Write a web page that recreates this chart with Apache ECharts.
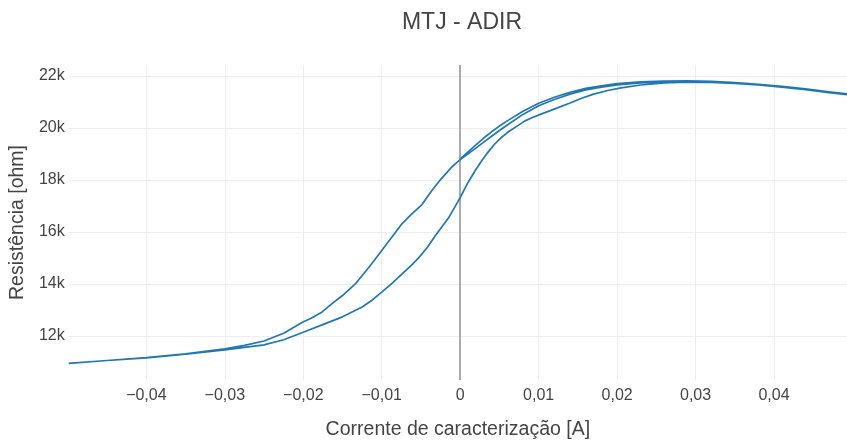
<!DOCTYPE html>
<html>
<head>
<meta charset="utf-8">
<script src="https://cdn.jsdelivr.net/npm/echarts@6/dist/echarts.min.js"></script>
<style>
html,body{margin:0;padding:0;background:#fff;}
#chart{width:847px;height:445px;}
</style>
</head>
<body>
<div id="chart"></div>
<script>
// Sweep A: current increasing from 0 to +0.05 A (upper branch)
const passA_x = [0, 0.001, 0.002, 0.003, 0.004, 0.005, 0.006, 0.008, 0.010, 0.012, 0.014, 0.016, 0.018, 0.020, 0.023, 0.026, 0.029, 0.032, 0.035, 0.038, 0.041, 0.044, 0.047, 0.0495];
const passA_y = [18810, 19080, 19350, 19610, 19850, 20070, 20270, 20640, 20950, 21180, 21370, 21520, 21620, 21700, 21770, 21800, 21810, 21790, 21740, 21680, 21600, 21500, 21390, 21300];

// Sweep B: current decreasing from +0.05 to -0.05 A (upper/left branch)
const passB_x = [0.0495, 0.047, 0.044, 0.041, 0.038, 0.035, 0.032, 0.029, 0.026, 0.023, 0.020, 0.018, 0.016, 0.014, 0.012, 0.010, 0.008, 0.006, 0.005, 0.004, 0.003, 0.002, 0.001, 0, -0.001, -0.0024, -0.0037, -0.0049, -0.0062, -0.0074, -0.0087, -0.0100, -0.0116, -0.0133, -0.0150, -0.0163, -0.0176, -0.0190, -0.0201, -0.0225, -0.025, -0.0275, -0.030, -0.035, -0.040, -0.045, -0.0499];
const passB_y = [21280, 21380, 21490, 21590, 21670, 21730, 21770, 21790, 21780, 21730, 21650, 21570, 21460, 21300, 21090, 20850, 20520, 20110, 19900, 19680, 19450, 19220, 19000, 18780, 18520, 18050, 17550, 17040, 16680, 16320, 15800, 15280, 14650, 14020, 13550, 13250, 12920, 12680, 12520, 12100, 11800, 11630, 11500, 11310, 11160, 11050, 10940];

// Sweep C: current increasing from -0.05 to +0.05 A (lower/right branch)
const passC_x = [-0.0499, -0.045, -0.040, -0.035, -0.030, -0.025, -0.0225, -0.0201, -0.0176, -0.0150, -0.0125, -0.0112, -0.0100, -0.0087, -0.0074, -0.0062, -0.0053, -0.0042, -0.0032, -0.0015, 0, 0.0010, 0.0019, 0.0027, 0.0035, 0.0044, 0.0052, 0.0061, 0.0072, 0.0082, 0.0092, 0.0103, 0.0124, 0.0140, 0.0154, 0.0170, 0.0188, 0.0205, 0.023, 0.026, 0.029, 0.032, 0.035, 0.038, 0.041, 0.044, 0.047, 0.0495];
const passC_y = [10940, 11050, 11150, 11290, 11460, 11650, 11850, 12130, 12420, 12730, 13110, 13380, 13680, 14020, 14380, 14720, 15000, 15400, 15840, 16530, 17320, 17900, 18350, 18720, 19050, 19380, 19620, 19840, 20060, 20260, 20400, 20530, 20770, 20960, 21130, 21300, 21440, 21540, 21650, 21730, 21760, 21750, 21710, 21650, 21570, 21470, 21360, 21270];

const titleText = 'MTJ - ADIR';
const xAxisTitle = 'Corrente de caracterização [A]';
const yAxisTitle = 'Resistência [ohm]';

const FONT = '"Liberation Sans", Arial, sans-serif';
const TXT = '#444';

function pairs(xs, ys) { return xs.map((x, i) => [x, ys[i]]); }
const data = [].concat(pairs(passA_x, passA_y), pairs(passB_x, passB_y), pairs(passC_x, passC_y));

const chart = echarts.init(document.getElementById('chart'), null, {renderer: 'canvas'});
chart.setOption({
  animation: false,
  backgroundColor: '#fff',
  title: {
    text: titleText,
    left: 457, top: 6, textAlign: 'center',
    textStyle: {fontFamily: FONT, fontSize: 23, fontWeight: 'normal', color: TXT}
  },
  grid: {left: 65, right: 0, top: 65, bottom: 62},
  xAxis: {
    type: 'value', min: -0.0499, max: 0.0493,
    splitNumber: 10, minInterval: 0.01, maxInterval: 0.01,
    name: xAxisTitle, nameLocation: 'middle', nameGap: 40,
    nameTextStyle: {fontFamily: FONT, fontSize: 19.5, color: TXT},
    axisLine: {show: false}, axisTick: {show: false},
    axisLabel: {
      margin: 8, fontFamily: FONT, fontSize: 16, color: TXT,
      showMinLabel: false, showMaxLabel: false,
      formatter: function (v) {
        if (Math.abs(v) < 1e-9) return '0';
        return (v < 0 ? '\u2212' : '') + Math.abs(v).toFixed(2).replace('.', ',');
      }
    },
    splitLine: {show: true, showMinLine: false, showMaxLine: false, lineStyle: {color: '#eeeeee', width: 1}}
  },
  yAxis: {
    type: 'value', min: 10300, max: 22420,
    minInterval: 2000, maxInterval: 2000,
    name: yAxisTitle, nameLocation: 'middle', nameGap: 38, nameRotate: 90,
    nameTextStyle: {fontFamily: FONT, fontSize: 19.5, color: TXT},
    axisLine: {show: false}, axisTick: {show: false},
    axisLabel: {
      margin: 4, fontFamily: FONT, fontSize: 16, color: TXT,
      padding: [7, 0, 0, 0],
      showMinLabel: false, showMaxLabel: false,
      formatter: function (v) { return (v / 1000) + 'k'; }
    },
    splitLine: {show: true, showMinLine: false, showMaxLine: false, lineStyle: {color: '#eeeeee', width: 1}}
  },
  series: [{
    type: 'line',
    data: data,
    symbol: 'none', showSymbol: false,
    smooth: false,
    z: 3,
    lineStyle: {color: '#1f77b4', width: 1.7},
    markLine: {
      silent: true, z: 1, symbol: ['none', 'none'],
      label: {show: false},
      lineStyle: {color: '#aaaaaa', type: 'solid', width: 2},
      data: [{xAxis: 0}]
    }
  }]
});
</script>
</body>
</html>
